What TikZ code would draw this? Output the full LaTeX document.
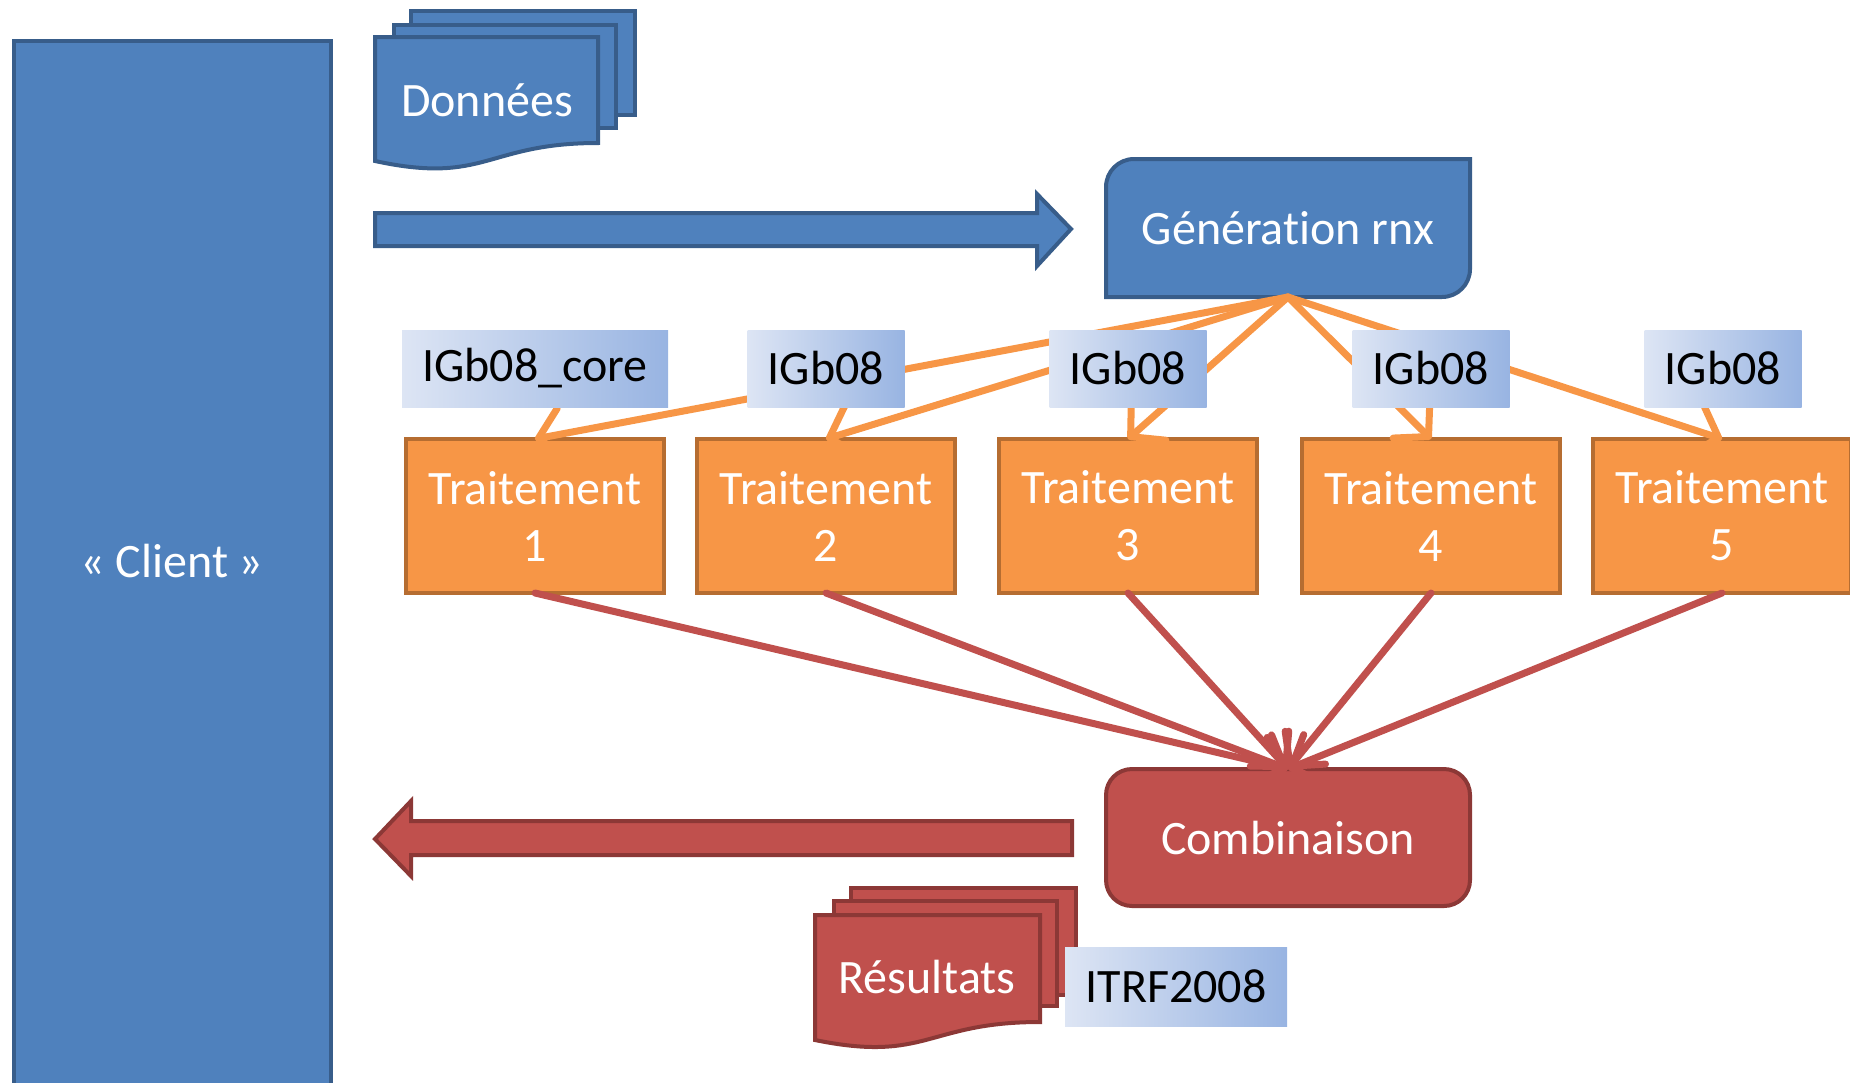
\documentclass[tikz,border=0pt]{standalone}
\usepackage{fontspec}
\setmainfont{Carlito}[Ligatures=NoCommon]
\usepackage{xcolor}
\definecolor{flow-blue}{HTML}{4F81BD}
\definecolor{flow-blue-line}{HTML}{385D8A}
\definecolor{flow-orange}{HTML}{F79646}
\definecolor{flow-orange-line}{HTML}{B66D31}
\definecolor{flow-red}{HTML}{C0504D}
\definecolor{flow-red-line}{HTML}{8C3836}
\definecolor{flow-tag-light}{HTML}{DDE5F4}
\definecolor{flow-tag-dark}{HTML}{98B4E2}
\usepackage{tikz}
\usetikzlibrary{arrows.meta}

\tikzset{
  shape-blue/.style={fill=flow-blue, draw=flow-blue-line, line width=2pt},
  shape-red/.style={fill=flow-red, draw=flow-red-line, line width=2pt},
  label-white/.style={text=white, inner sep=0pt, outer sep=0pt, align=center},
  box-orange/.style={label-white, fill=flow-orange, draw=flow-orange-line, line width=2pt,
    minimum width=129pt, minimum height=77pt},
  tag/.style={inner sep=0pt, outer sep=0pt, text=black, left color=flow-tag-light,
    right color=flow-tag-dark, minimum width=78.5pt, minimum height=38.5pt},
  feed/.style={draw=flow-orange, line width=3.5pt, line cap=round,
    -{Straight Barb[length=12pt, width=26pt, round]}},
  merge/.style={draw=flow-red, line width=3.5pt, line cap=round,
    -{Straight Barb[length=12pt, width=26pt, round]}},
}

\begin{document}
\begin{tikzpicture}[x=0.5pt, y=-0.5pt, font=\fontsize{24pt}{28.5pt}\selectfont]

    \path[use as bounding box, clip] (0, 0) rectangle (1850, 1082);

    % Client
    \filldraw[shape-blue] (14, 41) rectangle (331, 1100);
    \node[label-white] (client) at (172, 561) {« Client »};

    % Donnees
    \filldraw[shape-blue] (411, 11) rectangle (635, 115);
    \filldraw[shape-blue] (394, 25) rectangle (616, 128);
    \filldraw[shape-blue] (375, 37) -- (598, 37) -- (598, 143)
        .. controls (486, 143) and (486, 185) .. (375, 161) -- cycle;
    \node[label-white] (donnees) at (487, 100) {Données};

    % Envoi
    \filldraw[shape-blue] (375, 213) -- (1037, 213) -- (1037, 194) -- (1071, 229)
        -- (1037, 266) -- (1037, 246) -- (375, 246) -- cycle;

    % Generation
    \filldraw[shape-blue] (1106, 297) -- (1106, 187)
        .. controls (1106, 171.5) and (1118.5, 159) .. (1134, 159)
        -- (1470, 159) -- (1470, 269)
        .. controls (1470, 284.5) and (1457.5, 297) .. (1442, 297) -- cycle;
    \node[label-white, minimum width=182pt, minimum height=69pt] (gen) at (1288, 228) {Génération rnx};

    % Traitements
    \foreach \i/\x in {1/535, 2/826, 3/1128, 4/1431, 5/1722} {
        \node[box-orange] (trt\i) at (\x, 516) {Traitement\\\i};
        \draw[feed] (gen.south) -- (trt\i.north);
    }

    % Referentiels
    \node[tag, minimum width=133pt] (tag1) at (535, 368.5) {IGb08\_core};
    \foreach \i/\x in {2/826, 3/1128, 4/1431, 5/1723}
        \node[tag] (tag\i) at (\x, 368.5) {IGb08};

    % Combinaison
    \node[label-white, shape-red, rounded corners=13pt, minimum width=182pt, minimum height=68.5pt]
        (comb) at (1288, 837.5) {Combinaison};
    \foreach \i in {1, ..., 5}
        \draw[merge] (trt\i.south) -- (comb.north);

    % Retour
    \filldraw[shape-red] (1072, 821) -- (411, 821) -- (411, 801) -- (375, 839)
        -- (411, 876) -- (411, 855) -- (1072, 855) -- cycle;

    % Resultats
    \filldraw[shape-red] (851, 888) rectangle (1076, 995);
    \filldraw[shape-red] (834, 901) rectangle (1057, 1006);
    \filldraw[shape-red] (815, 915) -- (1040, 915) -- (1040, 1022)
        .. controls (927, 1022) and (927, 1063) .. (815, 1040) -- cycle;
    \node[label-white] (resultats) at (927, 977) {Résultats};
    \node[tag, minimum width=111pt, minimum height=39.5pt] (itrf) at (1176, 986.5) {ITRF2008};

\end{tikzpicture}
\end{document}
